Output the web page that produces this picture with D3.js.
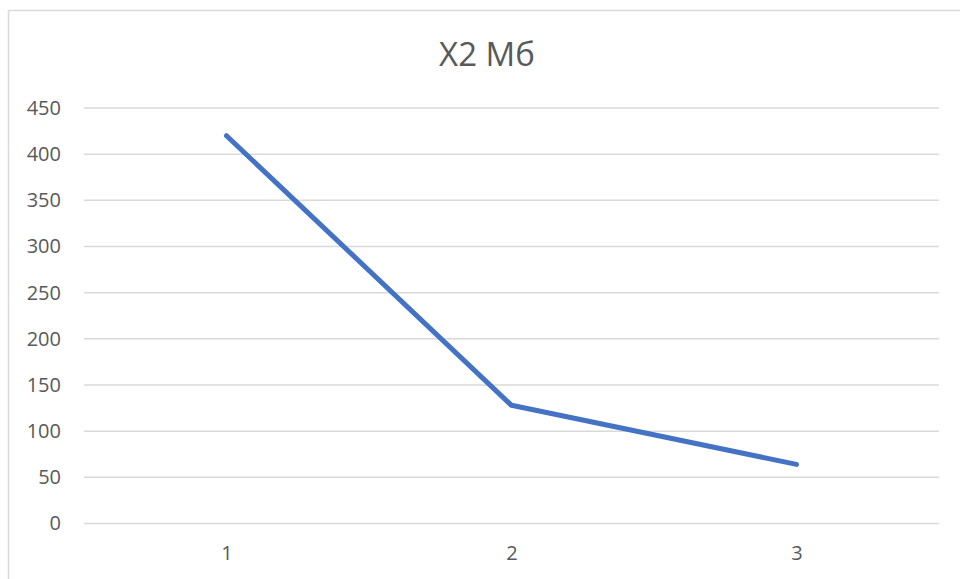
<!DOCTYPE html>
<html>
<head>
<meta charset="utf-8">
<script src="https://cdn.jsdelivr.net/npm/d3@7"></script>
<style>
  body { margin: 0; background: #fff; }
  text { font-family: "Open Sans", sans-serif; fill: #595959; }
</style>
</head>
<body>
<div id="chart"></div>
<script>
// Chart data
const categories = ["1", "2", "3"];
const values = [420, 128, 64];
const yTicks = [0, 50, 100, 150, 200, 250, 300, 350, 400, 450];
const chartTitle = "X2 Мб";

const width = 960;
const height = 579;
const margin = { top: 108, right: 21, bottom: 55.5, left: 84 };

const svg = d3
  .select("#chart")
  .append("svg")
  .attr("width", width)
  .attr("height", height);

// Chart frame
svg
  .append("rect")
  .attr("x", 8.5)
  .attr("y", 10.5)
  .attr("width", width)
  .attr("height", height)
  .attr("fill", "none")
  .attr("stroke", "#d9d9d9")
  .attr("stroke-width", 1.5);

// Scales
const xScale = d3
  .scalePoint()
  .domain(categories)
  .range([margin.left, width - margin.right])
  .padding(0.5);

const yScale = d3
  .scaleLinear()
  .domain([0, 450])
  .range([height - margin.bottom, margin.top]);

// Gridlines
svg
  .append("g")
  .selectAll("line")
  .data(yTicks)
  .enter()
  .append("line")
  .attr("x1", margin.left)
  .attr("x2", width - margin.right)
  .attr("y1", (d) => yScale(d))
  .attr("y2", (d) => yScale(d))
  .attr("stroke", "#d9d9d9")
  .attr("stroke-width", 1.5);

// Y axis labels
const yAxis = d3.axisLeft(yScale).tickValues(yTicks).tickSize(0).tickPadding(0);
svg
  .append("g")
  .attr("transform", `translate(61, 0)`)
  .call(yAxis)
  .call((g) => g.select(".domain").remove())
  .selectAll("text")
  .style("font-size", "20px")
  .style("font-family", "Open Sans, sans-serif")
  .attr("fill", "#595959");

// X axis labels
const xAxis = d3.axisBottom(xScale).tickSize(0).tickPadding(0);
svg
  .append("g")
  .attr("transform", `translate(0, 546)`)
  .call(xAxis)
  .call((g) => g.select(".domain").remove())
  .selectAll("text")
  .style("font-size", "20px")
  .style("font-family", "Open Sans, sans-serif")
  .attr("fill", "#595959");

// Line
const line = d3
  .line()
  .x((d, i) => xScale(categories[i]))
  .y((d) => yScale(d));

svg
  .append("path")
  .datum(values)
  .attr("d", line)
  .attr("fill", "none")
  .attr("stroke", "#4472c4")
  .attr("stroke-width", 5)
  .attr("stroke-linecap", "round")
  .attr("stroke-linejoin", "round");

// Title
svg
  .append("text")
  .attr("x", 487)
  .attr("y", 66)
  .attr("text-anchor", "middle")
  .style("font-size", "33px")
  .text(chartTitle);
</script>
</body>
</html>
